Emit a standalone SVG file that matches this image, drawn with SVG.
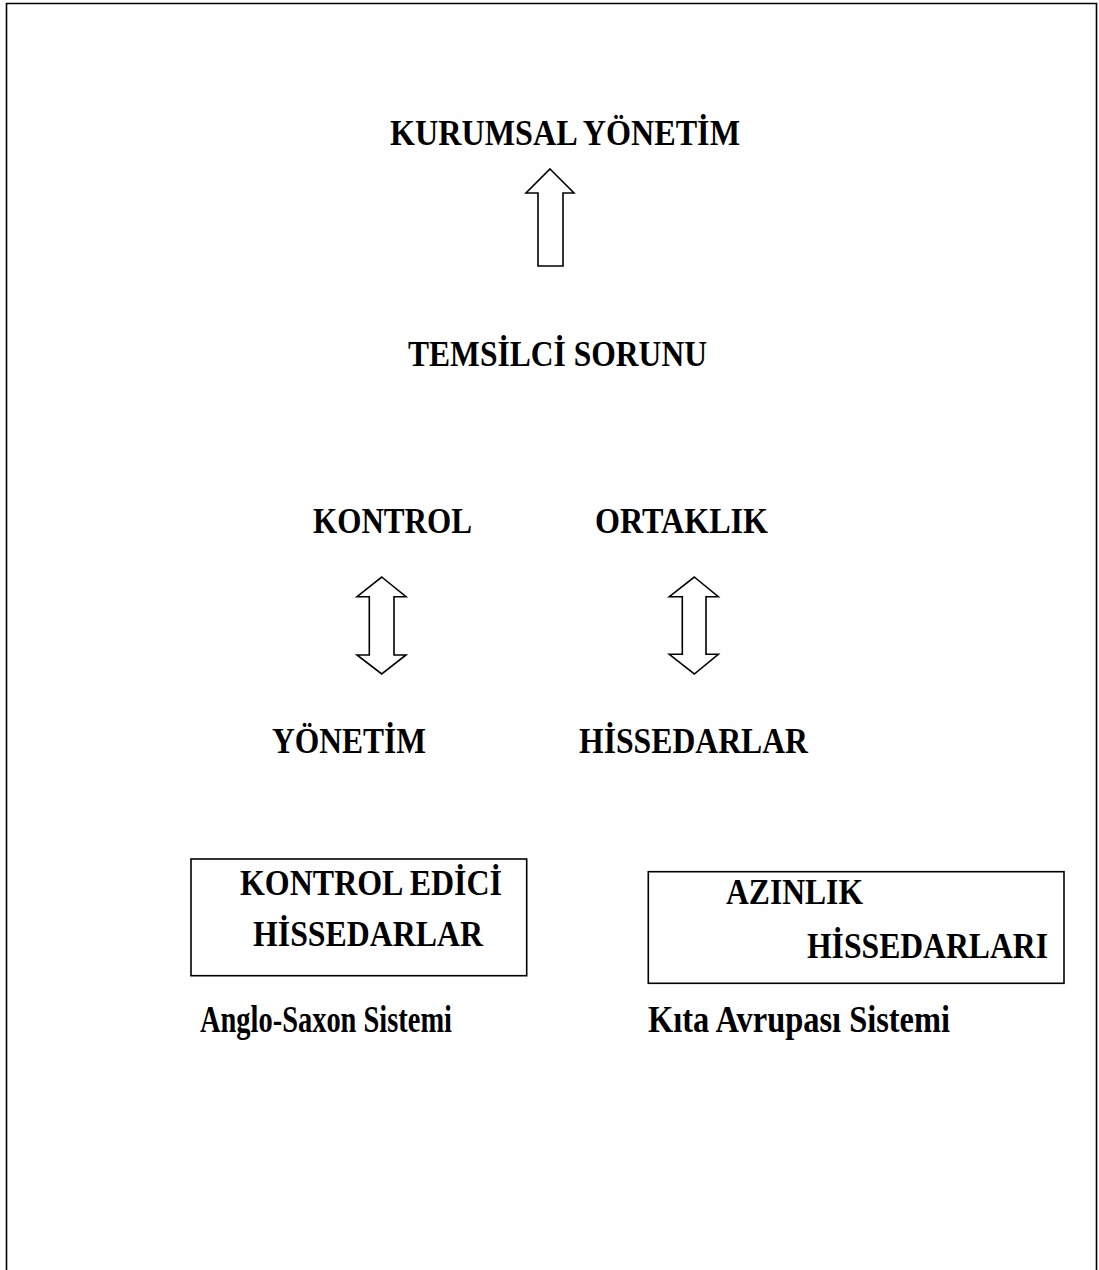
<svg xmlns="http://www.w3.org/2000/svg" width="1099" height="1270" viewBox="0 0 1099 1270">
<style>
  text { font-family: "Liberation Serif", "Times New Roman", serif; font-weight: bold; font-size: 35px; fill: #000; }
  .arrow { fill: #fff; stroke: #000; stroke-width: 1.6; stroke-linejoin: miter; }
  .box { fill: #fff; stroke: #000; stroke-width: 1.6; }
  .cond { font-size: 38px; }
</style>
<rect width="1099" height="1270" fill="#fff"/>
<path d="M6.5,1270 V3.5 H1096.5 V1270" fill="none" stroke="#000" stroke-width="1.6"/>
<g id="kurumsal"><text x="390" y="145" textLength="350" lengthAdjust="spacingAndGlyphs">KURUMSAL YÖNETİM</text></g>
<g id="temsilci"><text x="408" y="366" textLength="299" lengthAdjust="spacingAndGlyphs">TEMSİLCİ SORUNU</text></g>
<g id="kontrol"><text x="313" y="533" textLength="159" lengthAdjust="spacingAndGlyphs">KONTROL</text></g>
<g id="ortaklik"><text x="595" y="533" textLength="173" lengthAdjust="spacingAndGlyphs">ORTAKLIK</text></g>
<g id="yonetim"><text x="272" y="753" textLength="154" lengthAdjust="spacingAndGlyphs">YÖNETİM</text></g>
<g id="hissedarlar"><text x="579" y="753" textLength="229" lengthAdjust="spacingAndGlyphs">HİSSEDARLAR</text></g>
<g id="kontrol-edici">
  <rect class="box" x="191" y="859" width="335.7" height="116.7"/>
  <text x="240" y="895" textLength="262" lengthAdjust="spacingAndGlyphs">KONTROL EDİCİ</text>
  <text x="253" y="946" textLength="230" lengthAdjust="spacingAndGlyphs">HİSSEDARLAR</text>
</g>
<g id="azinlik">
  <rect class="box" x="648.3" y="871.7" width="415.7" height="111.6"/>
  <text x="726" y="904" textLength="137" lengthAdjust="spacingAndGlyphs">AZINLIK</text>
  <text x="807" y="958" textLength="241" lengthAdjust="spacingAndGlyphs">HİSSEDARLARI</text>
</g>
<g id="anglo"><text class="cond" x="200" y="1032" textLength="252" lengthAdjust="spacingAndGlyphs">Anglo-Saxon Sistemi</text></g>
<g id="kita"><text class="cond" x="648" y="1032" textLength="302" lengthAdjust="spacingAndGlyphs">Kıta Avrupası Sistemi</text></g>
<g id="connectors">
  <polygon class="arrow" points="550,169 574,193 563,193 563,266 538,266 538,193 526,193"/>
  <polygon class="arrow" points="381.7,577 406,596.7 394,596.7 394,655 406,655 381.7,674 357,655 369.3,655 369.3,596.7 357,596.7"/>
  <polygon class="arrow" points="694.3,577 718.3,596.7 706,596.7 706,654.3 718.3,654.3 694.3,674 669.3,654.3 682.3,654.3 682.3,596.7 669.3,596.7"/>
</g>
</svg>
